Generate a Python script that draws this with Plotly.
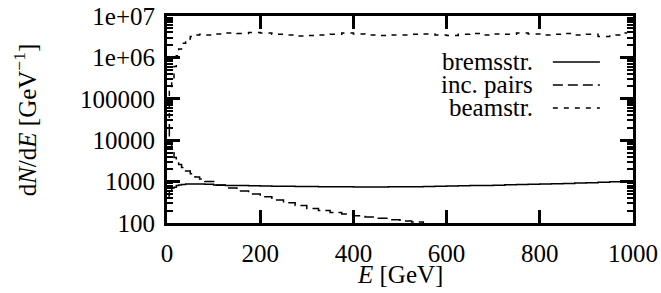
import plotly.graph_objects as go

E = [2.5, 7.5, 12.5, 17.5, 22.5, 27.5, 35, 45, 55, 65, 75,
     87.5, 112.5, 137.5, 162.5, 187.5, 212.5, 237.5, 262.5, 287.5, 312.5,
     337.5, 362.5, 387.5, 412.5, 437.5, 462.5, 487.5, 512.5, 537.5, 562.5,
     587.5, 612.5, 637.5, 662.5, 687.5, 712.5, 737.5, 762.5, 787.5, 812.5,
     837.5, 862.5, 887.5, 912.5, 937.5, 962.5, 987.5]

bremsstr = [450, 600, 700, 730, 800, 830, 850, 870, 880, 880, 870,
            860, 830, 810, 800, 790, 780, 775, 770, 765, 760,
            755, 750, 750, 745, 745, 745, 748, 750, 755, 760,
            770, 780, 790, 800, 810, 820, 835, 850, 860, 875,
            890, 905, 920, 940, 960, 985, 1010]

inc_pairs = [20000, 9000, 5000, 3800, 3000, 2600, 2200, 1800, 1550, 1300, 1150,
             1000, 820, 700, 590, 500, 430, 360, 310, 265, 225,
             200, 180, 165, 150, 140, 130, 120, 112, 105, 95,
             88, 82, 76, 70, 65, 60, 56, 52, 48, 45,
             42, 40, 38, 36, 34, 32, 30]

beamstr = [20000, 150000, 300000, 600000, 1100000, 1600000, 2200000, 2800000, 3200000, 3500000, 3600000,
           3500000, 3700000, 3900000, 3800000, 4000000, 3900000, 3600000, 3500000, 3300000, 3400000,
           3500000, 3600000, 3900000, 3700000, 3500000, 3400000, 3500000, 3500000, 3600000, 3700000,
           3500000, 3400000, 3600000, 3800000, 3500000, 3700000, 3600000, 3900000, 3700000, 3500000,
           3600000, 3800000, 3500000, 3600000, 3200000, 3500000, 3900000]

series_names = ["bremsstr.", "inc. pairs", "beamstr."]
series_dash = ["solid", "10px,5px", "5px,6px"]

y_tickvals = [100, 1000, 10000, 100000, 1000000, 10000000]
y_ticktext = ["100", "1000", "10000", "100000", "1e+06", "1e+07"]
x_tickvals = [0, 200, 400, 600, 800, 1000]

FONT = "Liberation Serif, Times New Roman, serif"
BLACK = "black"

fig = go.Figure()
for name, ys, dash in zip(series_names, [bremsstr, inc_pairs, beamstr], series_dash):
    fig.add_trace(go.Scatter(x=E, y=ys, mode="lines", name=name,
                             line=dict(color=BLACK, width=1.5, dash=dash, shape="hvh"),
                             showlegend=False))

# gnuplot-style key: right-aligned text followed by line sample
leg_y = [0.778, 0.667, 0.556]
for name, dash, yy in zip(series_names, series_dash, leg_y):
    fig.add_annotation(x=0.79, y=yy, xref="paper", yref="paper", text=name,
                       showarrow=False, xanchor="right", yanchor="middle",
                       font=dict(family=FONT, size=25, color=BLACK))
    fig.add_shape(type="line", xref="paper", yref="paper", x0=0.828, x1=0.929, y0=yy, y1=yy,
                  line=dict(color=BLACK, width=1.5, dash=dash))

fig.add_annotation(x=-0.305, y=0.5, xref="paper", yref="paper",
                   text="d<i>N</i>/d<i>E</i> [GeV<sup>−1</sup>]", textangle=-90,
                   showarrow=False, xanchor="center", yanchor="middle",
                   font=dict(family=FONT, size=25, color=BLACK))
fig.add_annotation(x=0.5, y=-0.25, xref="paper", yref="paper",
                   text="<i>E</i> [GeV]", showarrow=False, xanchor="center", yanchor="middle",
                   font=dict(family=FONT, size=25, color=BLACK))

fig.update_layout(
    width=661, height=293,
    margin=dict(l=167, r=28, t=16, b=70, autoexpand=False),
    paper_bgcolor="white", plot_bgcolor="white",
    font=dict(family=FONT, size=25, color=BLACK),
)
fig.update_xaxes(range=[0, 1000], tickvals=x_tickvals, showgrid=False, zeroline=False,
                 showline=True, linecolor=BLACK, linewidth=3, mirror="ticks",
                 ticks="inside", ticklen=13, tickwidth=2.5, tickcolor=BLACK,
                 tickfont=dict(family=FONT, size=25, color=BLACK),
                 automargin=False, ticklabelstandoff=6)
fig.update_yaxes(type="log", range=[2, 7], tickvals=y_tickvals, ticktext=y_ticktext,
                 showgrid=False, zeroline=False,
                 showline=True, linecolor=BLACK, linewidth=3, mirror="ticks",
                 ticks="inside", ticklen=13, tickwidth=2.5, tickcolor=BLACK,
                 tickfont=dict(family=FONT, size=25, color=BLACK),
                 automargin=False, ticklabelstandoff=4,
                 minor=dict(ticks="inside", ticklen=6, tickwidth=2, tickcolor=BLACK,
                            dtick="D1", showgrid=False))

fig.write_html("out.html", config={"displayModeBar": False},
               post_script="document.body.style.margin='0';")
